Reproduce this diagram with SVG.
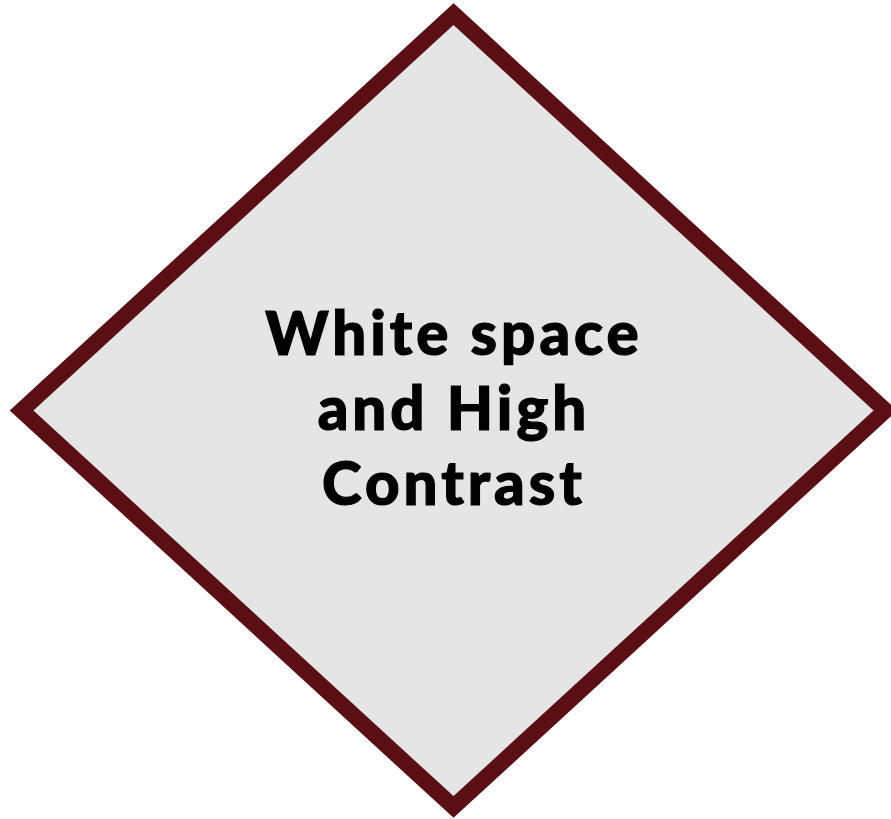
<svg xmlns="http://www.w3.org/2000/svg" width="891" height="819" viewBox="0 0 891 819">
<style>
.shape{fill:#e5e5e5;stroke:#5a0f14;stroke-width:16;stroke-linejoin:miter;stroke-miterlimit:10}
.label{font-family:Lato,"Liberation Sans",sans-serif;font-weight:900;font-size:60px;fill:#000;stroke:#000;stroke-width:1.2;letter-spacing:4px;text-anchor:middle}
</style>
<rect width="891" height="819" fill="#fff"/>
<g id="node-diamond">
<polygon class="shape" points="453.5,14 885.5,410.5 453.5,807 21.5,410.5"/>
<text class="label" x="454" y="355">White space</text>
<text class="label" x="454" y="430">and High</text>
<text class="label" x="454" y="505">Contrast</text>
</g>
<g id="connectors"></g>
</svg>
